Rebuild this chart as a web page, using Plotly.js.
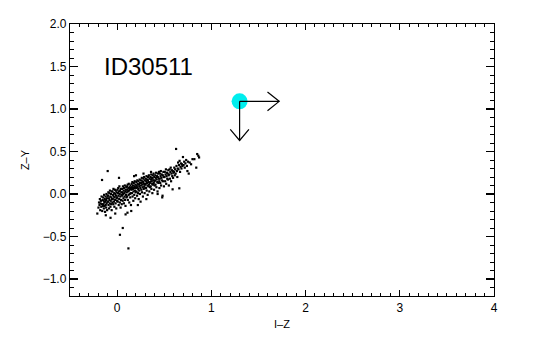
<!DOCTYPE html>
<html>
<head>
<meta charset="utf-8">
<script src="https://cdn.plot.ly/plotly-3.0.1.min.js"></script>
<style>html,body{margin:0;padding:0;background:#fff;}#chart{width:550px;height:350px;}</style>
</head>
<body>
<div id="chart"></div>
<script>
// I-Z colour of field sources
const iz = [
-0.198,-0.192,-0.187,-0.183,-0.179,-0.176,-0.172,-0.168,-0.165,-0.161,-0.158,-0.154,-0.151,
-0.148,-0.146,-0.143,-0.141,-0.138,-0.136,-0.133,-0.131,-0.128,-0.126,-0.123,-0.121,-0.118,-0.116,-0.113,-0.111,-0.108,-0.106,-0.103,-0.101,
-0.098,-0.096,-0.093,-0.091,-0.088,-0.086,-0.083,-0.081,-0.078,-0.076,-0.073,-0.071,-0.068,-0.066,-0.063,-0.061,-0.058,-0.056,-0.053,-0.051,
-0.049,-0.046,-0.044,-0.041,-0.039,-0.036,-0.034,-0.031,-0.029,-0.026,-0.024,-0.021,-0.019,-0.016,-0.014,-0.011,-0.009,-0.006,-0.004,-0.001,
0.002,0.004,0.007,0.009,0.012,0.014,0.017,0.019,0.022,0.024,0.027,0.029,0.032,0.034,0.037,0.039,0.042,0.044,0.047,0.049,
0.052,0.054,0.057,0.059,0.062,0.064,0.067,0.069,0.072,0.074,0.077,0.079,0.082,0.084,0.087,0.089,0.092,0.094,0.097,0.099,
0.102,0.104,0.107,0.109,0.112,0.114,0.117,0.119,0.122,0.124,0.127,0.129,0.132,0.134,0.137,0.139,0.142,0.144,0.147,0.149,
0.152,0.154,0.157,0.159,0.162,0.164,0.167,0.169,0.172,0.174,0.177,0.179,0.182,0.184,0.187,0.189,0.192,0.194,0.197,0.199,
0.202,0.204,0.207,0.209,0.212,0.214,0.217,0.219,0.222,0.224,0.227,0.229,0.232,0.234,0.237,0.239,0.242,0.244,0.247,0.249,
0.252,0.254,0.257,0.259,0.262,0.264,0.267,0.269,0.272,0.274,0.277,0.279,0.282,0.284,0.287,0.289,0.292,0.294,0.297,0.299,
0.302,0.304,0.307,0.309,0.312,0.314,0.317,0.319,0.322,0.324,0.327,0.329,0.332,0.334,0.337,0.339,0.342,0.344,0.347,0.349,
0.352,0.354,0.357,0.359,0.362,0.364,0.367,0.369,0.372,0.374,0.377,0.379,0.382,0.384,0.387,0.389,0.392,0.394,0.397,0.399,
0.402,0.405,0.408,0.411,0.414,0.417,0.420,0.423,0.426,0.429,0.432,0.435,0.438,0.441,0.444,0.447,0.449,
0.452,0.455,0.458,0.461,0.464,0.467,0.470,0.473,0.476,0.479,0.482,0.485,0.488,0.491,0.494,0.497,
0.503,0.506,0.510,0.514,0.518,0.521,0.525,0.529,0.532,0.536,0.540,0.543,0.547,0.549,
0.553,0.557,0.561,0.565,0.569,0.573,0.577,0.581,0.585,0.589,0.591,0.594,0.598,
0.603,0.607,0.612,0.616,0.621,0.626,0.630,0.634,0.639,0.643,0.647,
0.652,0.657,0.660,0.663,0.668,0.673,0.678,0.683,0.688,0.693,0.699,
0.705,0.712,0.718,0.725,0.733,0.741,0.746,0.752,0.760,0.770,0.785,0.800,0.820,0.840,0.850,0.862,0.870,
-0.21,-0.10,-0.16,0.02,-0.07,-0.02,0.03,0.06,0.12,0.09,0.22,0.18,0.20,0.28,0.36,0.31,0.43,0.15,0.11,-0.12
];
// Z-Y colour of field sources
const zy = [
-0.16,-0.10,-0.13,-0.06,-0.19,-0.11,-0.08,-0.15,-0.03,-0.12,-0.20,-0.07,-0.14,
-0.04,-0.12,-0.08,-0.17,-0.01,-0.10,-0.14,-0.06,-0.21,-0.09,-0.03,-0.13,-0.07,-0.16,0.00,-0.11,-0.05,-0.19,-0.09,-0.02,
-0.02,-0.09,0.02,-0.13,-0.05,-0.17,0.01,-0.07,-0.11,0.04,-0.03,-0.15,-0.08,0.00,-0.12,-0.04,-0.19,0.03,-0.06,-0.10,
0.03,-0.06,-0.01,-0.12,0.06,-0.03,-0.09,0.01,-0.15,-0.04,0.05,-0.07,0.00,-0.11,0.04,-0.02,-0.17,0.02,-0.05,-0.08,
-0.04,0.05,-0.09,0.01,0.07,-0.02,-0.13,0.03,-0.06,0.09,0.00,-0.10,0.04,-0.03,-0.16,0.06,-0.07,0.02,-0.01,-0.12,
0.06,-0.02,0.02,-0.08,0.09,0.00,-0.05,0.04,-0.11,0.07,0.01,-0.03,0.10,-0.07,0.03,-0.14,0.05,-0.01,0.08,-0.04,
0.02,0.09,-0.03,0.05,0.11,-0.07,0.03,0.07,-0.01,0.12,0.04,-0.10,0.08,0.00,0.06,-0.04,0.10,0.01,-0.13,0.07,
0.05,0.12,0.01,0.08,0.14,-0.03,0.06,0.10,-0.08,0.03,0.13,0.07,-0.01,0.09,0.15,0.04,-0.05,0.11,0.02,0.08,
0.07,0.14,0.03,0.10,-0.02,0.16,0.08,0.12,0.01,0.06,0.15,-0.06,0.11,0.04,0.09,0.17,0.00,0.13,0.07,-0.09,
0.10,0.16,0.05,0.13,0.19,0.02,0.11,0.15,0.08,-0.03,0.14,0.18,0.06,0.12,0.20,0.09,0.01,0.16,0.11,0.07,
0.12,0.18,0.07,0.15,0.21,0.04,0.13,0.17,0.10,-0.01,0.16,0.20,0.09,0.14,0.22,0.11,0.03,0.18,0.13,0.08,
0.14,0.20,0.09,0.17,0.23,0.06,0.15,0.19,0.12,0.01,0.18,0.22,0.11,0.16,0.24,0.13,0.05,0.20,0.15,0.10,
0.16,0.22,0.11,0.19,0.25,0.08,0.17,0.21,0.14,0.03,0.20,0.24,0.13,0.18,0.26,0.15,0.07,
0.18,0.24,0.13,0.21,0.27,0.10,0.19,0.23,0.16,-0.04,-0.02,0.22,0.15,0.26,0.20,0.09,
0.20,0.26,0.15,0.23,0.29,0.12,0.21,0.25,0.18,0.24,0.17,0.28,0.22,0.10,
0.23,0.29,0.18,0.26,0.31,0.15,0.24,0.28,0.21,0.055,0.27,0.19,0.25,
0.26,0.31,0.22,0.29,0.24,0.53,0.33,0.27,0.20,0.30,0.37,
0.29,0.34,0.067,0.39,0.26,0.32,0.36,0.30,0.35,0.33,0.435,
0.34,0.38,0.31,0.36,0.40,0.33,0.27,0.38,0.24,0.37,0.35,0.41,0.41,0.31,0.47,0.45,0.43,
-0.23,0.27,0.165,0.19,-0.28,-0.23,-0.48,-0.40,-0.64,-0.24,-0.13,0.21,0.22,0.24,0.26,-0.06,0.00,-0.20,-0.22,-0.25
];
// the highlighted object and its limit arrows
const objIZ = [1.30];
const objZY = [1.09];
const limitIZ = [1.72];   // tip of the rightward arrow
const limitZY = [0.63];   // tip of the downward arrow
const labelText = 'ID30511';
const xTickVals = [0, 1, 2, 3, 4];
const yTickVals = [-1.0, -0.5, 0.0, 0.5, 1.0, 1.5, 2.0];

const FONT = 'Liberation Sans, Arial, Helvetica, sans-serif';
const ox = objIZ[0], oy = objZY[0], tx = limitIZ[0], ty = limitZY[0];
const hx = 0.124, hy = 0.11;   // right arrow head size (style)
const vx = 0.099, vy = 0.13;   // down arrow head size (style)
const arrowLine = {color: 'black', width: 1.2};

const traces = [
  {x: iz, y: zy, type: 'scatter', mode: 'markers',
   marker: {symbol: 'square', size: 2.2, color: 'black', line: {width: 0}}, hoverinfo: 'skip'},
  {x: objIZ, y: objZY, type: 'scatter', mode: 'markers',
   marker: {size: 16, color: '#00EEEE', line: {width: 0}}},
  {x: [ox, tx, null, tx - hx, tx, tx - hx], y: [oy, oy, null, oy + hy, oy, oy - hy],
   type: 'scatter', mode: 'lines', line: arrowLine},
  {x: [ox, ox, null, ox - vx, ox, ox + vx], y: [oy, ty, null, ty + vy, ty, ty + vy],
   type: 'scatter', mode: 'lines', line: arrowLine}
];

const axisCommon = {
  showgrid: false, zeroline: false, showline: true, linecolor: 'black', linewidth: 1.2,
  mirror: 'allticks', ticks: 'inside', tickcolor: 'black', tickwidth: 1.2,
  tickfont: {family: FONT, size: 12, color: 'black'}
};

const layout = {
  width: 550, height: 350,
  margin: {l: 70, r: 56, t: 24, b: 54},
  paper_bgcolor: 'white', plot_bgcolor: 'white',
  showlegend: false,
  font: {family: FONT, color: 'black'},
  xaxis: Object.assign({}, axisCommon, {
    range: [-0.5, 4], tickvals: xTickVals, ticktext: xTickVals.map(String), ticklen: 6,
    minor: {dtick: 0.1, tick0: 0, ticklen: 3, ticks: 'inside', tickcolor: 'black', tickwidth: 1},
    title: {text: 'I–Z', font: {family: FONT, size: 11, color: 'black'}, standoff: 6}
  }),
  yaxis: Object.assign({}, axisCommon, {
    range: [-1.2, 2.0], tickvals: yTickVals, ticktext: yTickVals.map(v => v.toFixed(1).replace('-', '−')), ticklen: 8,
    minor: {dtick: 0.1, tick0: 0, ticklen: 4, ticks: 'inside', tickcolor: 'black', tickwidth: 1},
    title: {text: 'Z–Y', font: {family: FONT, size: 11, color: 'black'}, standoff: 10}
  }),
  annotations: [{
    x: -0.16, y: 1.5, xref: 'x', yref: 'y', xanchor: 'left', yanchor: 'middle',
    text: labelText, showarrow: false, font: {family: FONT, size: 24, color: 'black'}
  }]
};

Plotly.newPlot('chart', traces, layout, {staticPlot: true, displayModeBar: false});
</script>
</body>
</html>
